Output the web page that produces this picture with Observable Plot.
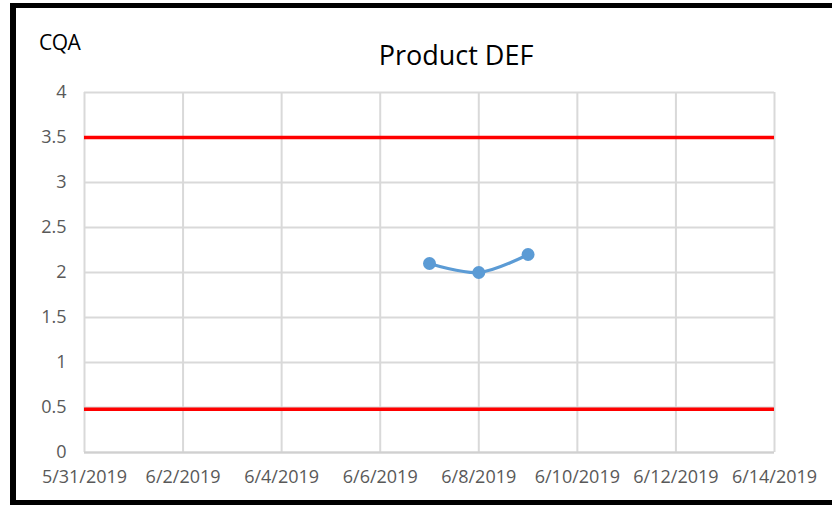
<!DOCTYPE html>
<html>
<head>
<meta charset="utf-8">
<script src="https://cdn.jsdelivr.net/npm/d3@7"></script>
<script src="https://cdn.jsdelivr.net/npm/@observablehq/plot@0.6"></script>
<style>
  html, body { margin: 0; padding: 0; background: #fff; overflow: hidden; }
  #wrap { position: relative; width: 832px; height: 505px; }
  #frame { position: absolute; left: 10px; top: 3px; width: 900px; height: 492px;
           border-left: 6px solid #000; border-top: 5px solid #000; border-bottom: 5px solid #000; pointer-events: none; }
  #title { position: absolute; left: 0; width: 912px; top: 36px; text-align: center; font-family: "Open Sans"; font-size: 27px; color: #000; }
  #ylab { position: absolute; left: 39px; top: 28px; font-family: "Open Sans"; font-size: 21px; letter-spacing: -0.5px; color: #000; }
  #wrap svg { position: absolute; left: 0; top: 0; }
</style>
</head>
<body>
<div id="wrap">
  <div id="chart"></div>
  <div id="title">Product DEF</div>
  <div id="ylab">CQA</div>
  <div id="frame"></div>
</div>
<script>
const dates = ["2019-06-07", "2019-06-08", "2019-06-09"];
const values = [2.1, 2.0, 2.2];
const limits = [3.5, 0.48];
const xTickDates = ["2019-05-31","2019-06-02","2019-06-04","2019-06-06","2019-06-08","2019-06-10","2019-06-12","2019-06-14"];
const xTickLabels = ["5/31/2019","6/2/2019","6/4/2019","6/6/2019","6/8/2019","6/10/2019","6/12/2019","6/14/2019"];
const yTicks = [0, 0.5, 1, 1.5, 2, 2.5, 3, 3.5, 4];
const yTickLabels = ["0","0.5","1","1.5","2","2.5","3","3.5","4"];

const points = dates.map((d, i) => ({date: new Date(d), value: values[i]}));
const xt = xTickDates.map(d => new Date(d));
const labelOf = new Map(xt.map((d, i) => [+d, xTickLabels[i]]));
const yLabelOf = new Map(yTicks.map((v, i) => [v, yTickLabels[i]]));

const chart = Plot.plot({
  width: 832,
  height: 505,
  marginLeft: 84,
  marginRight: 58,
  marginTop: 92,
  marginBottom: 53,
  style: {fontFamily: "Open Sans", fontSize: "18px", color: "#595959", background: "transparent"},
  x: {type: "utc", domain: [xt[0], xt[xt.length - 1]], ticks: xt, tickFormat: d => labelOf.get(+d), tickSize: 0, tickPadding: 18, label: null},
  y: {domain: [0, 4], ticks: yTicks, tickFormat: v => yLabelOf.get(v), tickSize: 0, tickPadding: 18, label: null},
  marks: [
    Plot.gridX(xt, {stroke: "#d9d9d9", strokeOpacity: 1, strokeWidth: 2}),
    Plot.gridY(yTicks, {stroke: "#d9d9d9", strokeOpacity: 1, strokeWidth: 2}),
    Plot.ruleY([0], {stroke: "#d0d0d0", strokeWidth: 2}),
    Plot.ruleY(limits, {stroke: "#ff0000", strokeWidth: 3.5}),
    Plot.line(points, {x: "date", y: "value", stroke: "#5b9bd5", strokeWidth: 3.2, curve: "catmull-rom"}),
    Plot.dot(points, {x: "date", y: "value", fill: "#5b9bd5", r: 6.5})
  ]
});
document.getElementById("chart").appendChild(chart);
</script>
</body>
</html>
